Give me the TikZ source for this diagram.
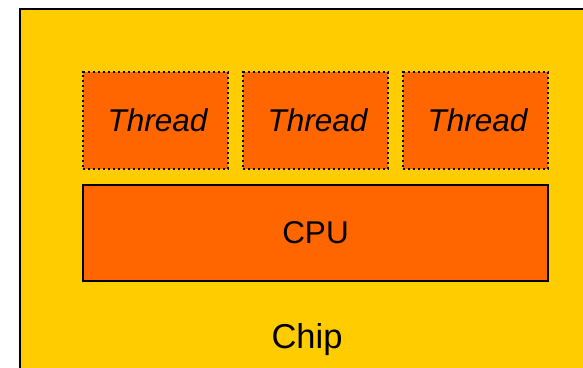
\documentclass[tikz,border=0pt]{standalone}
\usepackage{fontspec}
\setmainfont{Liberation Sans}
\begin{document}
\begin{tikzpicture}[x=1pt,y=1pt,
  chipbox/.style={draw=black,line width=2.2pt,fill=chipyellow},
  threadbox/.style={draw=black,line width=2.3pt,dash pattern=on 2.2pt off 2.8pt,fill=cpuorange,minimum width=145pt,minimum height=97pt,inner sep=0pt,font=\fontsize{31.5}{36}\selectfont\itshape},
  cpubox/.style={draw=black,line width=2.2pt,fill=cpuorange,minimum width=465pt,minimum height=96pt,inner sep=0pt,font=\fontsize{31.5}{36}\selectfont},
  lbl/.style={font=\fontsize{34.5}{40}\selectfont,inner sep=0pt}]
\definecolor{chipyellow}{HTML}{FFCC00}
\definecolor{cpuorange}{HTML}{FF6600}
\useasboundingbox (0,0) rectangle (583,367);
\fill[white] (0,0) rectangle (583,367);
\draw[chipbox] (20,358) rectangle (594,-10);
\node[threadbox] (t1) at (155.5,246.5) {\raisebox{-1pt}{\hspace*{4pt}Thread}};
\node[threadbox] (t2) at (315.5,246.5) {\raisebox{-1pt}{\hspace*{4pt}Thread}};
\node[threadbox] (t3) at (475.5,246.5) {\raisebox{-1pt}{\hspace*{4pt}Thread}};
\node[cpubox] (cpu) at (315.5,134) {\raisebox{-1pt}{CPU}};
\node[lbl,anchor=base] (chip) at (307,19) {Chip};
\end{tikzpicture}
\end{document}
